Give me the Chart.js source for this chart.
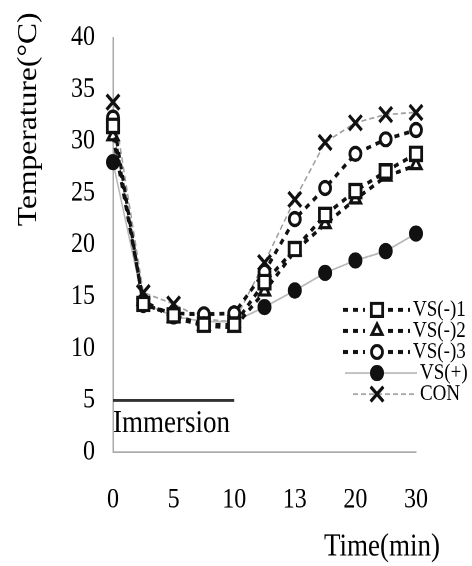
<!DOCTYPE html>
<html>
<head>
<meta charset="utf-8">
<title>Temperature</title>
<script src="https://cdn.jsdelivr.net/npm/chart.js@4.4.1/dist/chart.umd.min.js"></script>
<style>
  html, body { margin: 0; padding: 0; background: #fff; }
  #page { width: 472px; height: 566px; overflow: hidden; position: relative; }
  /* the plot is drawn a bit squat and stretched tall, like the printed figure */
  #wrap { position: absolute; left: 0; top: 0; width: 472px; height: 484px;
          transform: scaleY(1.1694); transform-origin: 0 0; }
</style>
</head>
<body>
<div id="page"><div id="wrap"><canvas id="tempChart"></canvas></div></div>
<script>
// time axis (every other point is unlabelled)
const tickLabels = ['0', '', '5', '', '10', '', '13', '', '20', '', '30'];

// skin temperature, deg C
const vs1 = [31.5, 14.3, 13.2, 12.3, 12.3, 16.4, 19.6, 22.9, 25.2, 27.1, 28.8];
const vs2 = [30.5, 14.6, 13.0, 12.2, 12.0, 15.5, 19.4, 22.0, 24.4, 26.6, 27.7];
const vs3 = [32.3, 14.2, 13.4, 13.3, 13.4, 17.4, 22.5, 25.5, 28.8, 30.2, 31.1];
const vsPlus = [28.0, 14.4, 13.1, 12.6, 12.6, 14.0, 15.6, 17.3, 18.5, 19.4, 21.1];
const con = [33.8, 15.4, 14.3, 12.8, 12.6, 18.3, 24.4, 29.9, 31.8, 32.6, 32.8];

// immersion period bar, drawn at 5 deg from 0 to 10 min
const immersion = [5, 5, 5, 5, 5, null, null, null, null, null, null];

const seriesNames = ['VS(-)1', 'VS(-)2', 'VS(-)3', 'VS(+)', 'CON'];

const serif = "'Liberation Serif', 'Times New Roman', serif";
Chart.defaults.font.family = serif;
Chart.defaults.color = '#000';

function dashed(name, data, style, radius) {
    return {
        label: name,
        data: data,
        borderColor: '#111',
        borderWidth: 3.2,
        borderDash: [5, 5],
        pointStyle: style,
        pointRadius: radius,
        pointBorderWidth: 2.8,
        pointBackgroundColor: '#fff',
        pointBorderColor: '#111',
        tension: 0
    };
}

const datasets = [
    dashed(seriesNames[0], vs1, 'rect', 8),
    dashed(seriesNames[1], vs2, 'triangle', 6),
    dashed(seriesNames[2], vs3, 'circle', 5.5),
    {
        label: seriesNames[3],
        data: vsPlus,
        borderColor: '#b8b8b8',
        borderWidth: 1.5,
        pointStyle: 'circle',
        pointRadius: 6.5,
        pointBorderWidth: 1,
        pointBackgroundColor: '#111',
        pointBorderColor: '#111'
    },
    {
        label: seriesNames[4],
        data: con,
        borderColor: '#a0a0a0',
        borderWidth: 1.5,
        borderDash: [5, 3],
        pointStyle: 'crossRot',
        pointRadius: 9,
        pointBorderWidth: 3,
        pointBorderColor: '#111'
    },
    {
        label: 'Immersion',
        data: immersion,
        borderColor: '#333',
        borderWidth: 2.5,
        pointRadius: 0,
        spanGaps: false
    }
];

// legend rows: [left line start, left line end, right line start, right line end, text x]
const legendLayout = [
    [343, 365, 388, 410, 413],
    [343, 365, 388, 410, 413],
    [343, 365, 388, 410, 413],
    [345, 417, 345, 417, 420],
    [353, 417, 353, 417, 420]
];
const legendRows = [265, 283, 301, 319, 337];

const annotations = {
    id: 'annotations',
    afterDraw(chart) {
        const ctx = chart.ctx;
        const x = chart.scales.x;
        const y = chart.scales.y;

        ctx.save();
        ctx.fillStyle = '#000';
        ctx.textBaseline = 'middle';

        // label under the immersion bar
        ctx.font = '27px ' + serif;
        ctx.textAlign = 'left';
        ctx.fillText('Immersion', x.getPixelForValue(0), y.getPixelForValue(2.7));

        // axis titles
        ctx.textAlign = 'right';
        ctx.fillText('Time(min)', 440, 468);
        ctx.save();
        ctx.translate(29, 102);
        ctx.rotate(-Math.PI / 2);
        ctx.textAlign = 'center';
        ctx.fillText('Temperature(°C)', 0, 0);
        ctx.restore();

        // legend
        ctx.font = '19px ' + serif;
        ctx.textAlign = 'left';
        for (let i = 0; i < 5; i++) {
            const ds = chart.data.datasets[i];
            const [a, b, c, d, tx] = legendLayout[i];
            const ly = legendRows[i];
            ctx.save();
            ctx.strokeStyle = ds.borderColor;
            ctx.lineWidth = ds.borderWidth;
            ctx.setLineDash(ds.borderDash || []);
            ctx.beginPath();
            ctx.moveTo(a, ly); ctx.lineTo(b, ly);
            ctx.moveTo(c, ly); ctx.lineTo(d, ly);
            ctx.stroke();
            ctx.setLineDash([]);
            ctx.fillStyle = ds.pointBackgroundColor || '#fff';
            ctx.strokeStyle = ds.pointBorderColor;
            ctx.lineWidth = ds.pointBorderWidth;
            Chart.helpers.drawPoint(ctx, {
                pointStyle: ds.pointStyle,
                rotation: 0,
                radius: ds.pointRadius,
                borderWidth: ds.pointBorderWidth
            }, 377, ly);
            ctx.restore();
            ctx.fillText(ds.label, tx, ly);
        }
        ctx.restore();
    }
};

new Chart(document.getElementById('tempChart').getContext('2d'), {
    type: 'line',
    data: {
        labels: tickLabels,
        datasets: datasets
    },
    options: {
        responsive: true,
        maintainAspectRatio: false,
        animation: false,
        devicePixelRatio: 2,
        layout: {
            padding: { top: 22, right: 56, bottom: 0, left: 0 }
        },
        plugins: {
            legend: { display: false },
            tooltip: { enabled: false }
        },
        scales: {
            x: {
                type: 'category',
                offset: false,
                grid: { display: false, drawTicks: false },
                border: { display: true, color: '#aaa', width: 1.5, dash: [3, 3] },
                ticks: {
                    autoSkip: false,
                    maxRotation: 0,
                    padding: 27,
                    font: { size: 24 }
                },
                afterFit(scale) { scale.height = 97.5; }
            },
            y: {
                min: 0,
                max: 40,
                grid: { display: false, drawTicks: false },
                border: { display: true, color: '#aaa', width: 1.5, dash: [2, 2] },
                ticks: {
                    stepSize: 5,
                    padding: 18,
                    font: { size: 24 }
                },
                afterFit(scale) { scale.width = 113; }
            }
        }
    },
    plugins: [annotations]
});
</script>
</body>
</html>
